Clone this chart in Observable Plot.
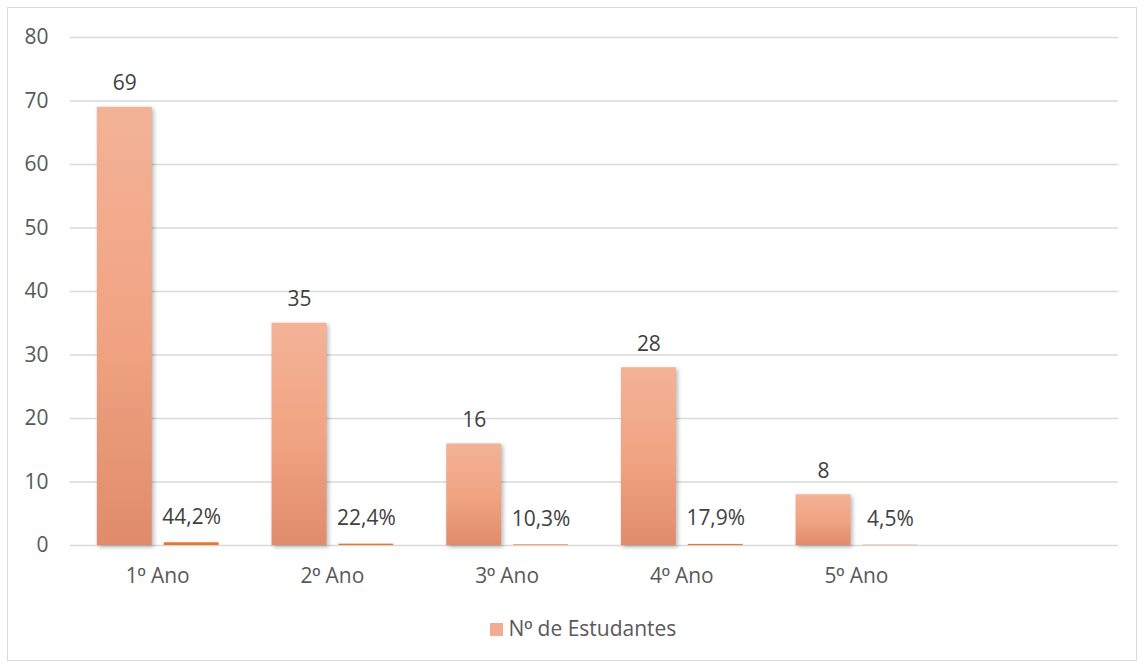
<!DOCTYPE html>
<html>
<head>
<meta charset="utf-8">
<script src="https://cdn.jsdelivr.net/npm/d3@7"></script>
<script src="https://cdn.jsdelivr.net/npm/@observablehq/plot@0.6"></script>
<style>
  html, body { margin: 0; padding: 0; background: #fff; }
  #frame { position: absolute; left: 7px; top: 7px; width: 1130px; height: 654px; border: 1px solid #d9d9d9; box-sizing: border-box; background: #fff; }
  #chart { position: absolute; left: 0; top: 0; }
  .bars rect { filter: drop-shadow(2px 2px 2px rgba(0,0,0,0.28)); }
  #legend { position: absolute; left: 0; width: 100%; top: 606px; text-align: center; font-family: "Open Sans", sans-serif; font-size: 21px; color: #595959; padding-left: 22px; box-sizing: border-box; white-space: nowrap; }
  #legend .sw { display: inline-block; width: 13px; height: 13px; background: #F3AC8E; margin-right: 6px; vertical-align: 0px; }
  .ord { font-family: "Liberation Sans", sans-serif; }
</style>
</head>
<body>
<div id="frame">
  <div id="chart"></div>
  <div id="legend"><span class="sw"></span>N<span class="ord">º</span> de Estudantes</div>
</div>
<script>
const categories = ["1º Ano", "2º Ano", "3º Ano", "4º Ano", "5º Ano"];
const students = [69, 35, 16, 28, 8];
const percents = [0.442, 0.224, 0.103, 0.179, 0.045];
const yTicks = [0, 10, 20, 30, 40, 50, 60, 70, 80];

const fmtPct = v => (v * 100).toFixed(1).replace(".", ",") + "%";
const nData = categories.map((c, i) => ({cat: c, value: students[i], label: String(students[i])}));
const pData = categories.map((c, i) => ({cat: c, value: percents[i], label: fmtPct(percents[i])}));
const xDomain = [...categories, " "];

const chart = Plot.plot({
  width: 1130,
  height: 590,
  marginLeft: 62,
  marginRight: 18,
  marginTop: 29,
  marginBottom: 52,
  style: {fontFamily: "'Open Sans', sans-serif", fontSize: "21px", color: "#595959", background: "transparent", overflow: "visible"},
  x: {domain: xDomain, paddingInner: 0, paddingOuter: 0, label: null, tickSize: 0, tickPadding: 23},
  y: {domain: [0, 80], ticks: yTicks, label: null, tickSize: 0, tickPadding: 22},
  marks: [
    Plot.ruleY(yTicks, {stroke: "#d9d9d9", strokeWidth: 1.5}),
    Plot.barY(nData, {x: "cat", y: "value", fill: "url(#barGrad)", insetLeft: 27, insetRight: 93, className: "bars"}),
    Plot.barY(pData, {x: "cat", y: "value", fill: "#E8762F", insetLeft: 94, insetRight: 26}),
    Plot.text(nData, {x: "cat", y: "value", text: "label", dx: -33, dy: -17, lineAnchor: "bottom", fill: "#404040", fontSize: 21}),
    Plot.text(pData, {x: "cat", y: "value", text: "label", dx: 34, dy: -19, lineAnchor: "bottom", fill: "#404040", fontSize: 21})
  ]
});

const defs = document.createElementNS("http://www.w3.org/2000/svg", "defs");
defs.innerHTML = '<linearGradient id="barGrad" x1="0" y1="0" x2="0" y2="1">' +
  '<stop offset="0" stop-color="#F3B297"/>' +
  '<stop offset="0.5" stop-color="#F1A483"/>' +
  '<stop offset="1" stop-color="#E08C6C"/>' +
  '</linearGradient>';
chart.insertBefore(defs, chart.firstChild);

// render the ordinal indicator with a font whose º carries the underline
d3.select(chart).selectAll("text").each(function() {
  const t = this.textContent;
  if (t.includes("º") && this.children.length === 0) {
    const parts = t.split("º");
    const sel = d3.select(this);
    sel.text(null);
    parts.forEach((p, i) => {
      if (i > 0) sel.append("tspan").attr("class", "ord").text("º");
      sel.append("tspan").text(p);
    });
  }
});

document.getElementById("chart").appendChild(chart);
</script>
</body>
</html>
